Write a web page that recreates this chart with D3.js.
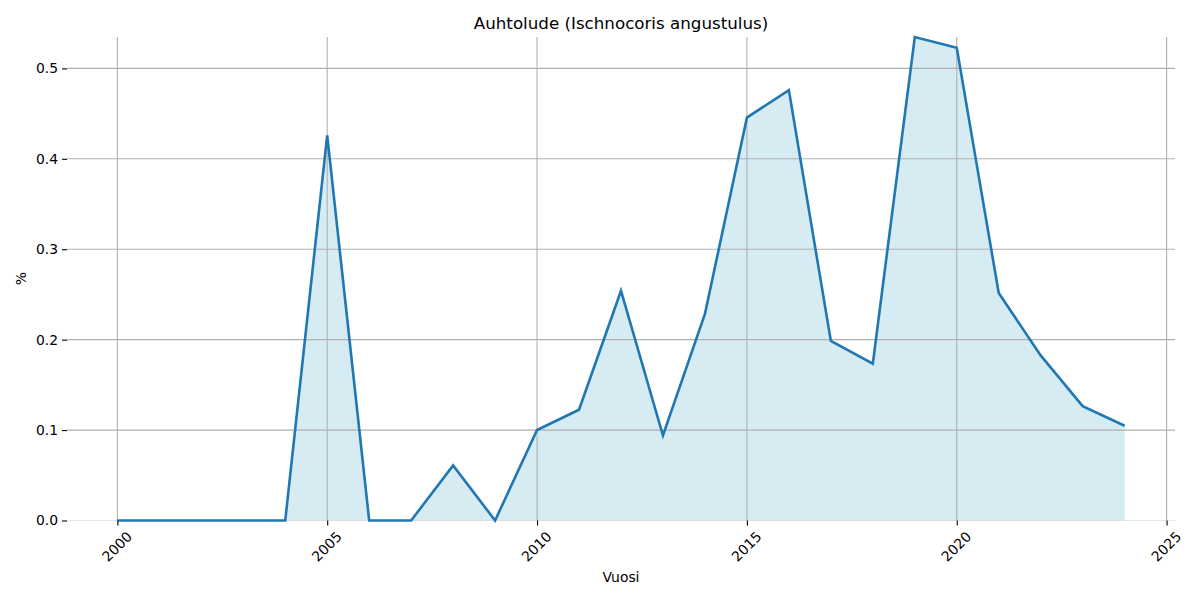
<!DOCTYPE html>
<html><head><meta charset="utf-8">
<script src="https://cdn.jsdelivr.net/npm/d3@7"></script>
<style>body{margin:0;background:#fff;} text{font-family:"DejaVu Sans",sans-serif;fill:#000;}</style>
</head><body>
<svg id="c" width="1200" height="600"></svg>
<script>
const years = [2000,2001,2002,2003,2004,2005,2006,2007,2008,2009,2010,2011,2012,2013,2014,2015,2016,2017,2018,2019,2020,2021,2022,2023,2024];
const values = [0,0,0,0,0,0.426,0,0,0.061,0,0.1,0.1225,0.254,0.094,0.2285,0.4455,0.476,0.1985,0.1735,0.5347,0.5228,0.2515,0.1826,0.1265,0.1048];
const xTicks = [2000,2005,2010,2015,2020,2025];
const yTicks = [0,0.1,0.2,0.3,0.4,0.5];
const title = "Auhtolude (Ischnocoris angustulus)";
const xLabel = "Vuosi";
const yLabel = "%";

const svg = d3.select("#c");
const L=67,R=1175,T=37,B=520.5;
const span = years[years.length-1]-years[0];
const x = d3.scaleLinear().domain([years[0]-span*0.05, years[years.length-1]+span*0.05]).range([L,R]);
const y = d3.scaleLinear().domain([0, d3.max(values)]).range([B,T]);
const data = years.map((yr,i)=>({yr, v:values[i]}));

const g = svg.append("g");
// area (below grid, like matplotlib zorder)
g.append("path").datum(data)
  .attr("d", d3.area().x(d=>x(d.yr)).y0(y(0)).y1(d=>y(d.v)))
  .attr("fill","#add8e6").attr("fill-opacity",0.5);
// grid
g.selectAll(".gx").data(xTicks).join("line")
  .attr("x1",d=>x(d)).attr("x2",d=>x(d)).attr("y1",T).attr("y2",B)
  .attr("stroke","#b0b0b0").attr("stroke-width",1.1);
g.selectAll(".gy").data(yTicks).join("line")
  .attr("x1",L).attr("x2",R).attr("y1",d=>y(d)).attr("y2",d=>y(d))
  .attr("stroke","#b0b0b0").attr("stroke-width",1.1).attr("stroke-opacity",d=>d===0?0.3:1);
// line
g.append("path").datum(data)
  .attr("d", d3.line().x(d=>x(d.yr)).y(d=>y(d.v)))
  .attr("fill","none").attr("stroke","#1f77b4").attr("stroke-width",2.6).attr("stroke-linejoin","miter");

// axes
const xa = svg.append("g").attr("transform",`translate(0,${B})`)
  .call(d3.axisBottom(x).tickValues(xTicks).tickSize(5).tickPadding(3).tickFormat(d3.format("d")));
xa.select(".domain").remove();
xa.selectAll(".tick line").attr("stroke","#000").attr("stroke-width",1.1);
xa.selectAll(".tick text").attr("font-size","13.9px")
  .attr("text-anchor","middle").attr("dy",null).attr("y",null)
  .attr("dominant-baseline","central")
  .attr("transform","translate(-1,26) rotate(-45)");

const ya = svg.append("g").attr("transform",`translate(${L},0)`)
  .call(d3.axisLeft(y).tickValues(yTicks).tickSize(5).tickPadding(4).tickFormat(d3.format(".1f")));
ya.select(".domain").remove();
ya.selectAll(".tick line").attr("stroke","#000").attr("stroke-width",1.1);
ya.selectAll(".tick text").attr("font-size","13.9px");

svg.append("text").attr("x",(L+R)/2).attr("y",29).attr("text-anchor","middle")
  .attr("font-size","16.7px").text(title);
svg.append("text").attr("x",(L+R)/2).attr("y",582).attr("text-anchor","middle")
  .attr("font-size","13.9px").text(xLabel);
svg.append("text").attr("transform",`translate(26,${(T+B)/2}) rotate(-90)`).attr("text-anchor","middle")
  .attr("font-size","13.9px").text(yLabel);
</script>
</body></html>
